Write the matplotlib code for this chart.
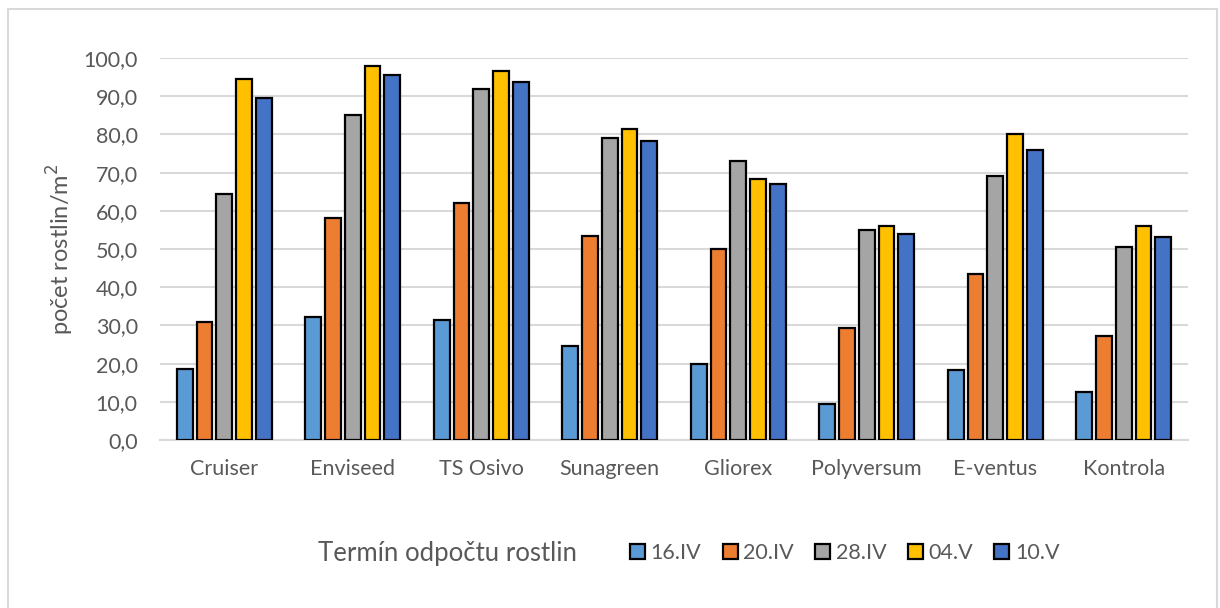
import numpy as np
import matplotlib.pyplot as plt
from matplotlib.patches import Rectangle

plt.rcParams['font.family'] = ['Lato', 'DejaVu Sans']

# Data
categories = ["Cruiser", "Enviseed", "TS Osivo", "Sunagreen", "Gliorex", "Polyversum", "E-ventus", "Kontrola"]
terms = ["16.IV", "20.IV", "28.IV", "04.V", "10.V"]
v_16iv = [18.5, 32.3, 31.5, 24.5, 20.0, 9.5, 18.2, 12.5]
v_20iv = [31.0, 58.0, 62.0, 53.5, 50.0, 29.3, 43.5, 27.3]
v_28iv = [64.5, 85.0, 92.0, 79.0, 73.0, 55.0, 69.0, 50.5]
v_04v = [94.5, 98.0, 96.5, 81.5, 68.3, 56.0, 80.0, 56.0]
v_10v = [89.5, 95.5, 93.8, 78.3, 67.0, 53.8, 75.8, 53.2]
series = [v_16iv, v_20iv, v_28iv, v_04v, v_10v]
colors = ["#5B9BD5", "#ED7D31", "#A5A5A5", "#FFC000", "#4472C4"]

text_col = "#595959"

fig = plt.figure(figsize=(12.2, 6.08), dpi=100)
ax = fig.add_axes([160 / 1220, 1 - 440 / 608, 1028 / 1220, 382 / 608])

x = np.arange(len(categories))
pitch = 0.154
width = 0.122
for i, (vals, c, lab) in enumerate(zip(series, colors, terms)):
    ax.bar(x + (i - 2) * pitch, vals, width, color=c, edgecolor="black",
           linewidth=1.6, label=lab, zorder=3)

ax.set_xlim(-0.5, len(categories) - 0.5)
ax.set_ylim(0, 100)
ax.set_yticks(np.arange(0, 101, 10))
ax.set_yticklabels([f"{v:.1f}".replace(".", ",") for v in np.arange(0, 101, 10)])
ax.set_xticks(x)
ax.set_xticklabels(categories)
ax.tick_params(axis="both", length=0, labelsize=15.5, colors=text_col)
ax.tick_params(axis="x", pad=14)
ax.tick_params(axis="y", pad=16)
ax.grid(axis="y", color="#D9D9D9", linewidth=1.5, zorder=0)
for s in ["top", "right", "left"]:
    ax.spines[s].set_visible(False)
ax.spines["bottom"].set_color("#D9D9D9")
ax.spines["bottom"].set_linewidth(1.5)

# y label placed directly in figure pixels
fig.text(60 / 1220, 1 - 249 / 608, "počet rostlin/m$^2$", fontsize=17,
         color=text_col, rotation=90, ha="center", va="center")

fig.text(318 / 1220, 1 - 553 / 608, "Termín odpočtu rostlin", fontsize=18.5,
         color=text_col, ha="left", va="center")
leg = fig.legend(loc="center left", bbox_to_anchor=(630 / 1220, 1 - 553 / 608), ncol=5,
                 frameon=False, fontsize=15.5, handlelength=0.7, handleheight=0.7,
                 handletextpad=0.25, columnspacing=1.0, labelcolor=text_col,
                 borderpad=0, borderaxespad=0)

fig.patches.append(Rectangle((8 / 1220, -0.05), 1209 / 1220, 1.05 - 9 / 608,
                             transform=fig.transFigure, fill=False,
                             edgecolor="#D9D9D9", linewidth=1.5))

fig.savefig("out.png", dpi=100)
